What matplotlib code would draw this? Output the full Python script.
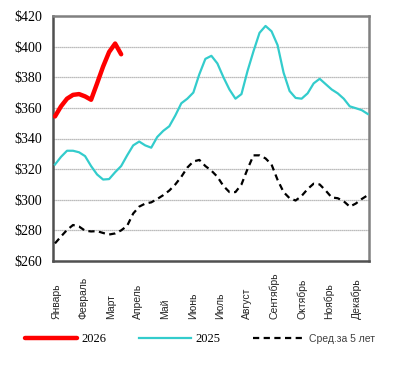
import numpy as np
import matplotlib.pyplot as plt

# weekly prices, $
weeks = np.arange(53)

price_2026 = [354.4, 361, 366, 368.5, 369, 367.5, 365.3, 376, 387, 396.5, 402, 395]

price_2025 = [323, 328, 332, 332, 331, 328.5, 322, 316.5, 313.2, 313.5,
              318, 322, 329, 335.5, 338, 335.5, 334, 341, 345, 348,
              355, 363, 366, 370, 382, 392, 394, 389, 380, 372,
              366, 369, 384, 397, 409, 413.5, 410, 401, 383, 371,
              366.5, 366, 369.5, 376, 379, 375.5, 372, 369.5, 366, 361,
              359.8, 358.5, 356]

avg_5y = [271.5, 276, 280.3, 283.5, 282.5, 279.8, 279.3, 279.5, 278.3, 277.3,
          278, 280, 283, 291, 295.5, 297.5, 298.3, 300.5, 303, 306,
          310, 315, 321, 325, 326, 322, 319, 315, 309, 305,
          305, 310, 320, 329, 329, 327, 323, 313, 305, 301,
          299.5, 302.5, 307, 310.5, 310, 306, 301.5, 301, 299, 295.5,
          297.5, 300.5, 303]

months = ['Январь', 'Февраль', 'Март', 'Апрель', 'Май', 'Июнь', 'Июль',
          'Август', 'Сентябрь', 'Октябрь', 'Ноябрь', 'Декабрь']

fig = plt.figure(figsize=(3.95, 3.67), dpi=100)
ax = fig.add_axes([53 / 395, (367 - 261) / 367, 316 / 395, 245 / 367])

ax.plot(weeks[:len(price_2026)], price_2026, color='#ff0000', lw=3.2,
        solid_capstyle='round', solid_joinstyle='round', label='2026', zorder=4)
ax.plot(weeks, price_2025, color='#33cccc', lw=1.6, label='2025', zorder=3)
ax.plot(weeks, avg_5y, color='black', lw=1.6, dashes=(2.8, 2.0),
        label='Сред.за 5 лет', zorder=3)

ax.set_xlim(-0.33, 52.2)
ax.set_ylim(260, 420)
ax.set_yticks(np.arange(260, 421, 20))
ax.set_yticklabels([f'${v}' for v in range(260, 421, 20)],
                   family='Liberation Serif', fontsize=10)
ax.tick_params(axis='y', length=0, pad=8)

for v in range(280, 420, 20):
    ax.axhline(v, color='#a6a6a6', lw=0.9, ls=(0, (1, 0.6)), zorder=1)

# month labels, bottoms aligned
ax.set_xticks(np.arange(12) * 4.54 + 0.2)
ax.set_xticklabels(months, rotation=90, va='bottom', ha='center',
                   family='Liberation Sans', fontsize=7.5, color='#262626')
ax.tick_params(axis='x', length=0, pad=42)

for s in ax.spines.values():
    s.set_color('#808080')
    s.set_linewidth(1.8)
ax.spines['left'].set_color('#505050')
ax.spines['bottom'].set_color('#505050')

leg = fig.legend(loc='center left', bbox_to_anchor=(25 / 395, 1 - 339 / 367),
                 ncol=3, frameon=False, fontsize=9, handlelength=4.15,
                 columnspacing=2.55, handletextpad=0.4, borderaxespad=0,
                 borderpad=0)
texts = leg.get_texts()
texts[0].set_family('Liberation Serif')
texts[1].set_family('Liberation Serif')
texts[2].set_family('Liberation Sans')
texts[2].set_fontsize(7.5)
texts[2].set_color('#404040')

fig.savefig('out.png', dpi=100)
